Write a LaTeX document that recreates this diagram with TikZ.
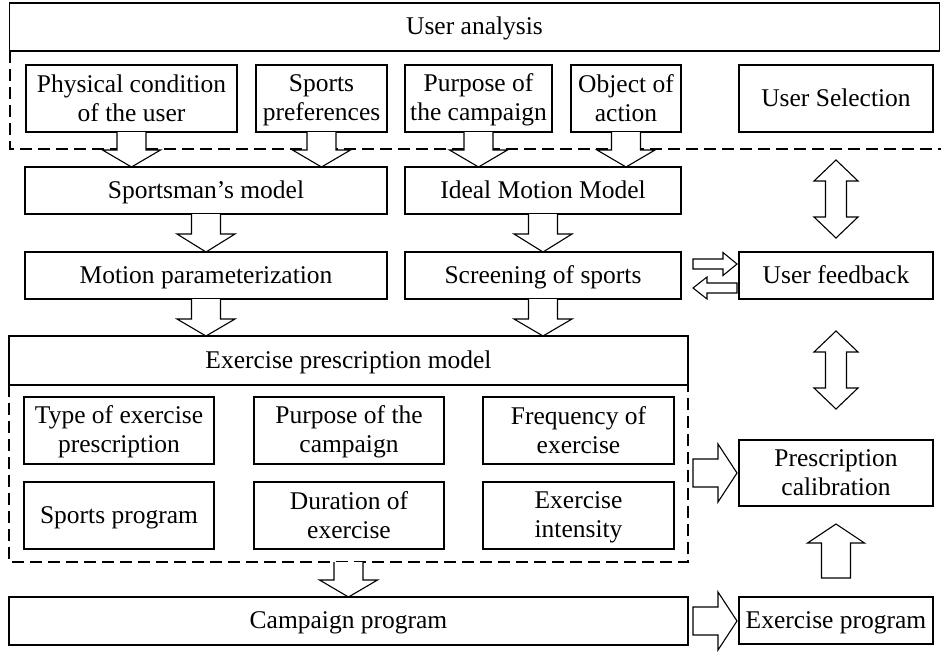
\documentclass[tikz,border=0pt]{standalone}
\usepackage{fontspec}
\setmainfont{Liberation Serif}
\usetikzlibrary{calc}
\tikzset{
  box/.style={draw, line width=1.1pt, inner sep=0pt, outer sep=0pt, align=center,
    font=\fontsize{25.5}{29}\selectfont},
  blk/.style={draw, fill=white, line width=1.1pt, line join=miter},
  dsh/.style={line width=1.1pt, dash pattern=on 12pt off 6pt}
}
\newcommand\St{\vrule width 0pt height 21pt depth 5pt\relax}
% down arrow: tail, tip, shaft half width, head half width, head length
\newcommand\arrD[5]{\draw[blk] let \p1=#1, \p2=#2 in
  (\x1-#3,\y1) -- (\x1-#3,\y2+#5) -- (\x1-#4,\y2+#5) -- (\x1,\y2) -- (\x1+#4,\y2+#5) -- (\x1+#3,\y2+#5) -- (\x1+#3,\y1);}
\newcommand\arrU[5]{\draw[blk] let \p1=#1, \p2=#2 in
  (\x1-#3,\y1) -- (\x1-#3,\y2-#5) -- (\x1-#4,\y2-#5) -- (\x1,\y2) -- (\x1+#4,\y2-#5) -- (\x1+#3,\y2-#5) -- (\x1+#3,\y1) -- cycle;}
\newcommand\arrR[5]{\draw[blk] let \p1=#1, \p2=#2 in
  (\x1,\y1-#3) -- (\x2-#5,\y1-#3) -- (\x2-#5,\y1-#4) -- (\x2,\y1) -- (\x2-#5,\y1+#4) -- (\x2-#5,\y1+#3) -- (\x1,\y1+#3) -- cycle;}
\newcommand\arrL[5]{\draw[blk] let \p1=#1, \p2=#2 in
  (\x1,\y1-#3) -- (\x2+#5,\y1-#3) -- (\x2+#5,\y1-#4) -- (\x2,\y1) -- (\x2+#5,\y1+#4) -- (\x2+#5,\y1+#3) -- (\x1,\y1+#3) -- cycle;}
% vertical double arrow: top tip, bottom tip
\newcommand\arrUD[5]{\draw[blk] let \p1=#1, \p2=#2 in
  (\x1,\y1) -- (\x1+#4,\y1-#5) -- (\x1+#3,\y1-#5) -- (\x1+#3,\y2+#5) -- (\x1+#4,\y2+#5) -- (\x1,\y2)
  -- (\x1-#4,\y2+#5) -- (\x1-#3,\y2+#5) -- (\x1-#3,\y1-#5) -- (\x1-#4,\y1-#5) -- cycle;}
\begin{document}
\begin{tikzpicture}[x=1pt,y=-1pt]
\useasboundingbox[fill=white] (0,0) rectangle (941,653);

% dashed regions
\coordinate (d1a) at (10,51);
\coordinate (d1b) at (10,149);
\coordinate (d1c) at (941,149);
\draw[dsh] (d1a) -- (d1b) -- (d1c);
\coordinate (d2a) at (9,385);
\coordinate (d2b) at (9,562);
\coordinate (d2c) at (688,562);
\coordinate (d2d) at (688,385);
\draw[dsh] (d2a) -- (d2b) -- (d2c) -- (d2d);

\node[box, minimum width=930, minimum height=48] (ua) at (474.5,27) {\St User analysis};
\node[box, minimum width=211, minimum height=67] (phys) at (131.5,98.5) {\St Physical condition\\\St of the user};
\node[box, minimum width=131, minimum height=67] (spref) at (321.5,98.5) {\St Sports\\\St preferences};
\node[box, minimum width=147, minimum height=67] (purp) at (478.5,98.5) {\St Purpose of\\\St the campaign};
\node[box, minimum width=110, minimum height=67] (obj) at (626,98.5) {\St Object of\\\St action};
\node[box, minimum width=194, minimum height=67] (usel) at (836,98.5) {\St User Selection};

\node[box, minimum width=362, minimum height=47] (smodel) at (206,190.5) {\St Sportsman's model};
\node[box, minimum width=276, minimum height=47] (ideal) at (543,190.5) {\St Ideal Motion Model};
\node[box, minimum width=362, minimum height=47] (mparam) at (206,275.5) {\St Motion parameterization};
\node[box, minimum width=276, minimum height=47] (screen) at (543,275.5) {\St Screening of sports};
\node[box, minimum width=194, minimum height=47] (ufb) at (836,275.5) {\St User feedback};

\node[box, minimum width=679, minimum height=49] (epm) at (348.5,360.5) {\St Exercise prescription model};
\node[box, minimum width=190, minimum height=67] (type) at (119,430.5) {\St Type of exercise\\\St prescription};
\node[box, minimum width=190, minimum height=67] (purp2) at (349,430.5) {\St Purpose of the\\\St campaign};
\node[box, minimum width=191, minimum height=67] (freq) at (578.5,430.5) {\St Frequency of\\\St exercise};
\node[box, minimum width=190, minimum height=67] (sprog) at (119,515.5) {\St Sports program};
\node[box, minimum width=190, minimum height=67] (dur) at (349,515.5) {\St Duration of\\\St exercise};
\node[box, minimum width=191, minimum height=67] (inten) at (578.5,515.5) {\St Exercise\\\St intensity};

\node[box, minimum width=679, minimum height=48] (camp) at (348.5,621) {\St Campaign program};
\node[box, minimum width=194, minimum height=66] (pcal) at (836,473) {\St Prescription\\\St calibration};
\node[box, minimum width=194, minimum height=47] (eprog) at (836,620.5) {\St Exercise program};

% down arrows from top row
\arrD{(phys.south)}{(phys.south |- smodel.north)}{14.5pt}{29pt}{17pt}
\arrD{(spref.south)}{(spref.south |- smodel.north)}{14.5pt}{29pt}{17pt}
\arrD{(purp.south)}{(purp.south |- ideal.north)}{14.5pt}{29pt}{17pt}
\arrD{(obj.south)}{(obj.south |- ideal.north)}{14.5pt}{29pt}{17pt}
% second level
\arrD{(smodel.south)}{(mparam.north)}{14.5pt}{29pt}{18pt}
\arrD{(ideal.south)}{(screen.north)}{14.5pt}{29pt}{18pt}
\arrD{(mparam.south)}{(mparam.south |- epm.north)}{14.5pt}{29pt}{17pt}
\arrD{(screen.south)}{(screen.south |- epm.north)}{14.5pt}{29pt}{17pt}
% dashed region to campaign
\coordinate (d2m) at (348.5,562);
\arrD{(d2m)}{(camp.north)}{14.5pt}{29pt}{17pt}

% screening <-> feedback
\arrR{($(screen.east)+(12,-11.5)$)}{($(ufb.west)+(-2,-11.5)$)}{5pt}{11.5pt}{14pt}
\arrL{($(ufb.west)+(-2,12.5)$)}{($(screen.east)+(12,12.5)$)}{5pt}{11pt}{14pt}

% vertical double arrows
\arrUD{($(usel.south)+(0,28)$)}{($(ufb.north)+(0,-14)$)}{10.5pt}{22pt}{21pt}
\arrUD{($(ufb.south)+(0,32)$)}{($(pcal.north)+(0,-31)$)}{10.5pt}{22pt}{21pt}

% up arrow exercise program -> calibration
\arrU{($(eprog.north)+(0,-19)$)}{($(pcal.south)+(0,18)$)}{14.5pt}{28.5pt}{19pt}

% right arrows
\coordinate (d2r) at (693,473);
\arrR{(d2r)}{($(pcal.west)+(-2,0)$)}{14pt}{29pt}{19pt}
\arrR{($(camp.east)+(5,0)$)}{($(eprog.west)+(-2,0)$)}{14pt}{29pt}{19pt}
\end{tikzpicture}
\end{document}
